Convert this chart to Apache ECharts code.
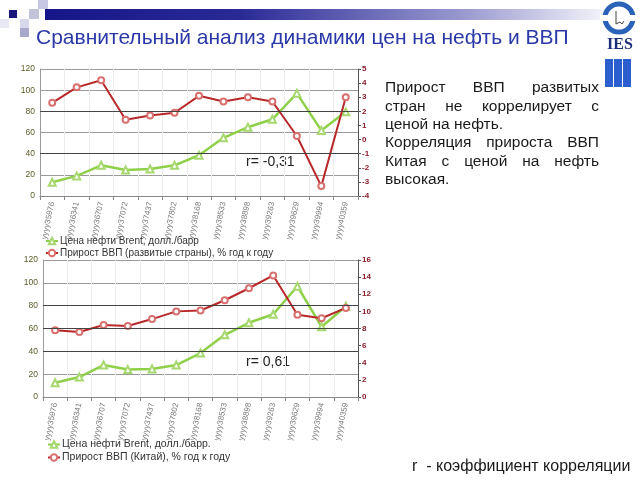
<!DOCTYPE html>
<html><head><meta charset="utf-8">
<script src="https://cdn.jsdelivr.net/npm/echarts@6/dist/echarts.min.js"></script>
<style>html,body{margin:0;padding:0;background:#fff}#c{width:640px;height:480px}</style>
</head><body><div id="c"></div>
<script>
const categories = ['yyyy35976','yyyy36341','yyyy36707','yyyy37072','yyyy37437','yyyy37802','yyyy38168','yyyy38533','yyyy38898','yyyy39263','yyyy39629','yyyy39994','yyyy40359'];
const oilTop = [13, 19, 29, 24.5, 25.5, 29, 38.5, 55, 65, 72.5, 97, 62, 79.5];
const gdpDeveloped = [2.6, 3.7, 4.2, 1.4, 1.7, 1.9, 3.1, 2.7, 3.0, 2.7, 0.25, -3.3, 3.0];
const oilBottom = [12.5, 17.5, 28, 24, 24.5, 28, 38.5, 54.5, 65, 72.5, 97, 61.5, 79.5];
const gdpChina = [7.8, 7.6, 8.4, 8.3, 9.1, 10.0, 10.1, 11.3, 12.7, 14.2, 9.6, 9.2, 10.4];
const darkLinesTop = [40, 80];
const darkLinesBottom = [40, 60, 80];
const nameOil1 = 'Цена нефти Brent, долл./барр';
const nameGdp1 = 'Прирост ВВП (развитые страны), % год к году';
const nameOil2 = 'Цена нефти Brent, долл./барр.';
const nameGdp2 = 'Прирост ВВП (Китай), % год к году';
const titleText = 'Сравнительный анализ динамики цен на нефть и ВВП';
const rTop = 'r= -0,31';
const rBottom = 'r= 0,61';
const noteText = 'r  - коэффициент корреляции';
const bodyLines = [
  ['Прирост ВВП развитых', true],
  ['стран не коррелирует с', true],
  ['ценой на нефть.', false],
  ['Корреляция прироста ВВП', true],
  ['Китая с ценой на нефть', true],
  ['высокая.', false]
];

const FONT = '"Liberation Sans", Arial, sans-serif';
const chart = echarts.init(document.getElementById('c'), null, {renderer: 'canvas'});

const ctx = document.createElement('canvas').getContext('2d');
const bodyFont = '15.5px ' + FONT;
ctx.font = bodyFont;
const graphics = [];
// header decoration
graphics.push({type:'rect', shape:{x:45,y:9,width:560,height:11}, style:{fill:new echarts.graphic.LinearGradient(0,0,1,0,[{offset:0,color:'#16168a'},{offset:0.35,color:'#2a2a96'},{offset:0.75,color:'#9a9ad0'},{offset:1,color:'#f4f4fb'}])}, silent:true});
graphics.push({type:'rect', shape:{x:38,y:0,width:10,height:9}, style:{fill:'#c8c8e2'}});
graphics.push({type:'rect', shape:{x:29,y:9,width:10,height:10}, style:{fill:'#c4c4d8'}});
graphics.push({type:'rect', shape:{x:9,y:10,width:8,height:8}, style:{fill:'#15157a'}});
graphics.push({type:'rect', shape:{x:20,y:19,width:9,height:9}, style:{fill:'#d8d8ec'}});
graphics.push({type:'rect', shape:{x:20,y:28,width:9,height:9}, style:{fill:'#a8a8cc'}});
graphics.push({type:'rect', shape:{x:0,y:19,width:9,height:9}, style:{fill:'#e8e8f4'}});
// title
graphics.push({type:'text', x:36, y:49, style:{text:titleText, font:'21px '+FONT, fill:'#2a38a8', textVerticalAlign:'bottom'}});
// logo
graphics.push({type:'circle', shape:{cx:619,cy:18,r:14}, style:{fill:'none', stroke:'#2a62b8', lineWidth:5}});
graphics.push({type:'rect', shape:{x:600,y:15,width:8,height:6}, style:{fill:'#fff'}});
graphics.push({type:'rect', shape:{x:630,y:15,width:8,height:6}, style:{fill:'#fff'}});
graphics.push({type:'polyline', shape:{points:[[616,11],[616,24],[620,22],[622,24],[624,21]]}, style:{fill:'none', stroke:'#444', lineWidth:1}});
graphics.push({type:'text', x:620, y:45, style:{text:'IES', font:'bold 16px "Liberation Serif", serif', fill:'#1d2f7a', textAlign:'center', textVerticalAlign:'middle'}});
graphics.push({type:'rect', shape:{x:605,y:59,width:8,height:28}, style:{fill:'#2b5fd0'}});
graphics.push({type:'rect', shape:{x:614,y:59,width:8,height:28}, style:{fill:'#2b5fd0'}});
graphics.push({type:'rect', shape:{x:623,y:59,width:8,height:28}, style:{fill:'#2b5fd0'}});
// body text
const x0 = 385, x1 = 599;
bodyLines.forEach((ln, li) => {
  const words = ln[0].split(' ');
  const widths = words.map(w => ctx.measureText(w).width);
  const total = widths.reduce((a,b)=>a+b,0);
  const gap = ln[1] ? (x1 - x0 - total)/(words.length-1) : ctx.measureText(' ').width;
  let x = x0;
  const yc = 88 + li*18.4;
  words.forEach((w,i)=>{
    graphics.push({type:'text', x:x, y:yc, style:{text:w, font:bodyFont, fill:'#1a1a1a', textVerticalAlign:'middle'}});
    x += widths[i] + gap;
  });
});
graphics.push({type:'text', x:246, y:162, style:{text:rTop, font:'14px '+FONT, fill:'#222', textVerticalAlign:'middle'}});
graphics.push({type:'text', x:246, y:362, style:{text:rBottom, font:'14px '+FONT, fill:'#222', textVerticalAlign:'middle'}});
graphics.push({type:'text', x:412, y:467, style:{text:noteText, font:'16px '+FONT, fill:'#1a1a1a', textVerticalAlign:'middle'}});

function xAxisCfg(gi){
  return {type:'category', gridIndex:gi, data:categories, boundaryGap:true,
    axisLine:{lineStyle:{color:'#888'}}, axisTick:{show:true, length:4, lineStyle:{color:'#888'}},
    splitLine:{show:true, lineStyle:{color:'#ececec'}},
    axisLabel:{rotate:78, fontSize:8, color:'#777', margin:6, fontFamily:FONT}};
}
function darkMark(vals){
  return {silent:true, symbol:'none', label:{show:false}, lineStyle:{color:'#444', type:'solid', width:1},
    data: vals.map(v => ({yAxis:v}))};
}
const redLine = '#b8282a', redMark = '#d87070', greenLine = '#8fd04a', greenMark = '#a8d870';

const option = {
  animation:false,
  backgroundColor:'#fff',
  graphic:graphics,
  grid:[{left:40, width:318, top:69, height:127}, {left:43, width:315, top:260, height:137}],
  xAxis:[xAxisCfg(0), xAxisCfg(1)],
  yAxis:[
    {type:'value', gridIndex:0, min:0, max:120, interval:20,
     axisLine:{show:true, lineStyle:{color:'#999'}}, axisTick:{show:false},
     axisLabel:{fontSize:8.5, color:'#5c5c2a', margin:5, fontFamily:FONT},
     splitLine:{lineStyle:{color:'#9a9a9a', width:1}}},
    {type:'value', gridIndex:0, min:-4, max:5, interval:1, position:'right',
     axisLine:{show:true, lineStyle:{color:'#555'}}, axisTick:{show:true, length:3, lineStyle:{color:'#555'}},
     axisLabel:{fontSize:8, color:'#8b1a2b', fontWeight:'bold', margin:4, fontFamily:FONT},
     splitLine:{show:false}},
    {type:'value', gridIndex:1, min:0, max:120, interval:20,
     axisLine:{show:true, lineStyle:{color:'#999'}}, axisTick:{show:false},
     axisLabel:{fontSize:8.5, color:'#5c5c2a', margin:5, fontFamily:FONT},
     splitLine:{lineStyle:{color:'#9a9a9a', width:1}}},
    {type:'value', gridIndex:1, min:0, max:16, interval:2, position:'right',
     axisLine:{show:true, lineStyle:{color:'#555'}}, axisTick:{show:true, length:3, lineStyle:{color:'#555'}},
     axisLabel:{fontSize:8, color:'#8b1a2b', fontWeight:'bold', margin:4, fontFamily:FONT},
     splitLine:{show:false}}
  ],
  legend:[
    {orient:'vertical', left:40, top:231, itemGap:2, itemWidth:12, itemHeight:8, data:[nameOil1, nameGdp1],
     textStyle:{fontSize:10, color:'#333', fontFamily:FONT, padding:[0,0,0,-3]}},
    {orient:'vertical', left:42, top:434, itemGap:2, itemWidth:12, itemHeight:8, data:[nameOil2, nameGdp2],
     textStyle:{fontSize:10.5, color:'#333', fontFamily:FONT, padding:[0,0,0,-3]}}
  ],
  series:[
    {name:nameGdp1, type:'line', xAxisIndex:0, yAxisIndex:1, data:gdpDeveloped, symbol:'emptyCircle', symbolSize:6,
     lineStyle:{color:redLine, width:2}, itemStyle:{color:redMark, borderWidth:1}},
    {name:nameOil1, type:'line', xAxisIndex:0, yAxisIndex:0, data:oilTop, symbol:'emptyTriangle', symbolSize:7,
     lineStyle:{color:greenLine, width:2.5}, itemStyle:{color:greenMark, borderWidth:1}, markLine:darkMark(darkLinesTop), z:1},
    {name:nameGdp2, type:'line', xAxisIndex:1, yAxisIndex:3, data:gdpChina, symbol:'emptyCircle', symbolSize:6,
     lineStyle:{color:redLine, width:2}, itemStyle:{color:redMark, borderWidth:1}},
    {name:nameOil2, type:'line', xAxisIndex:1, yAxisIndex:2, data:oilBottom, symbol:'emptyTriangle', symbolSize:7,
     lineStyle:{color:greenLine, width:2.5}, itemStyle:{color:greenMark, borderWidth:1}, markLine:darkMark(darkLinesBottom), z:1}
  ]
};
chart.setOption(option);
</script></body></html>
